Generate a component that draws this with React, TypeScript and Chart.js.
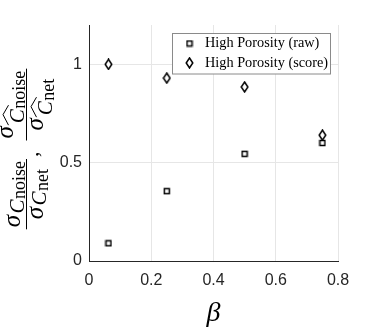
import React, { useEffect, useRef } from "react";
import { Chart, registerables } from "chart.js";

Chart.register(...registerables);

// ---- data ----
const BETA = [0.0625, 0.25, 0.5, 0.75];
const RAW = [0.09, 0.355, 0.545, 0.6];
const SCORE = [1.0, 0.93, 0.885, 0.64];
const X_TICKS = [0, 0.2, 0.4, 0.6, 0.8];
const Y_TICKS = [0, 0.5, 1];
const SERIES_LABELS = ["High Porosity (raw)", "High Porosity (score)"];
const X_LABEL = "β";

function makeMarker(kind: string): HTMLCanvasElement {
  const c = document.createElement("canvas");
  const g = c.getContext("2d") as CanvasRenderingContext2D;
  if (kind === "square") {
    c.width = 8;
    c.height = 8;
    g.fillStyle = "#fff";
    g.strokeStyle = "#000";
    g.lineWidth = 1.5;
    g.fillRect(1.5, 1.5, 5, 5);
    g.strokeRect(1.5, 1.5, 5, 5);
  } else {
    c.width = 9;
    c.height = 12;
    g.fillStyle = "#fff";
    g.strokeStyle = "#000";
    g.lineWidth = 1.5;
    g.beginPath();
    g.moveTo(4.5, 1);
    g.lineTo(7.8, 6);
    g.lineTo(4.5, 11);
    g.lineTo(1.2, 6);
    g.closePath();
    g.fill();
    g.stroke();
  }
  return c;
}

const SERIF = '"Liberation Serif", "Times New Roman", serif';

function drawYLabel(ctx: CanvasRenderingContext2D, centerY: number) {
  const barX = 26.5;
  const SIG = "italic 25px " + SERIF;
  const CF = "italic 21px " + SERIF;
  const SUB = "18px " + SERIF;
  ctx.save();
  ctx.translate(barX, 0);
  ctx.rotate(-Math.PI / 2);
  ctx.fillStyle = "#000";
  ctx.strokeStyle = "#000";
  ctx.textBaseline = "alphabetic";
  ctx.textAlign = "left";
  const mw = (t: string, f: string) => {
    ctx.font = f;
    return ctx.measureText(t).width;
  };
  const termWidth = (sub: string, hat: boolean) =>
    mw("σ", SIG) + (hat ? 3 : 1.5) + mw("C", CF) + 0.5 + mw(sub, SUB);
  // pos: [sigmaBase, cBase, subBase, hatBase, hatPeak]
  const drawTerm = (sub: string, a0: number, pos: number[], hat: boolean) => {
    ctx.font = SIG;
    ctx.fillText("σ", a0, pos[0]);
    const aC = a0 + mw("σ", SIG) + (hat ? 3 : 1.5);
    ctx.font = CF;
    ctx.fillText("C", aC, pos[1]);
    const wC = mw("C", CF);
    const aS = aC + wC + 0.5;
    ctx.font = SUB;
    ctx.fillText(sub, aS, pos[2]);
    if (hat) {
      ctx.lineWidth = 1;
      ctx.beginPath();
      ctx.moveTo(aC - 2, pos[3]);
      ctx.lineTo(aC + wC / 2 + 1.5, pos[4]);
      ctx.lineTo(aC + wC + 4, pos[3]);
      ctx.stroke();
    }
  };
  const fracWidth = (n: string, d: string, hat: boolean) =>
    Math.max(termWidth(n, hat), termWidth(d, hat)) + 4;
  const drawFrac = (n: string, d: string, a: number, hat: boolean) => {
    const W = fracWidth(n, d, hat);
    ctx.lineWidth = 1;
    ctx.beginPath();
    ctx.moveTo(a, 0);
    ctx.lineTo(a + W, 0);
    ctx.stroke();
    const numPos = hat ? [-14, -3, -1.5, -18, -23.5] : [-7, -3, -1.5, 0, 0];
    const denPos = hat ? [16, 25.5, 27, 10, 4.5] : [16, 19.5, 21, 0, 0];
    drawTerm(n, a + (W - termWidth(n, hat)) / 2, numPos, hat);
    drawTerm(d, a + (W - termWidth(d, hat)) / 2, denPos, hat);
    return W;
  };
  const w1 = fracWidth("noise", "net", false);
  const commaF = "22px " + SERIF;
  const commaW = mw(",", commaF);
  const gap = 11;
  const w2 = fracWidth("noise", "net", true);
  const total = w1 + 2 + commaW + gap + w2;
  let a = -centerY - total / 2;
  a += drawFrac("noise", "net", a, false) + 2;
  ctx.font = commaF;
  ctx.fillText(",", a, 11);
  a += commaW + gap;
  drawFrac("noise", "net", a, true);
  ctx.restore();
}

const labelsPlugin = {
  id: "customLabels",
  afterDraw(chart: any) {
    const ctx = chart.ctx as CanvasRenderingContext2D;
    const ca = chart.chartArea;
    // y label
    drawYLabel(ctx, 149);
    // x label
    ctx.save();
    ctx.fillStyle = "#000";
    ctx.font = "italic 28px " + SERIF;
    ctx.textAlign = "center";
    ctx.textBaseline = "alphabetic";
    ctx.fillText(X_LABEL, (ca.left + ca.right) / 2, 321);
    ctx.restore();
    // legend
    const bx = 172.5;
    const by = 33.5;
    const bw = 158;
    const bh = 40.5;
    ctx.save();
    ctx.fillStyle = "#fff";
    ctx.fillRect(bx, by, bw, bh);
    ctx.strokeStyle = "#8a8a8a";
    ctx.lineWidth = 1;
    ctx.strokeRect(bx, by, bw, bh);
    ctx.fillStyle = "#000";
    ctx.font = "14.3px " + SERIF;
    ctx.textAlign = "left";
    ctx.textBaseline = "middle";
    chart.data.datasets.forEach((ds: any, i: number) => {
      const y = by + 10 + i * 19.4;
      const m = ds.pointStyle as HTMLCanvasElement;
      ctx.drawImage(m, 189.5 - m.width / 2, y - m.height / 2);
      ctx.fillText(ds.label, 205, y);
    });
    ctx.restore();
  },
};

export default function App() {
  const ref = useRef<HTMLCanvasElement | null>(null);
  useEffect(() => {
    document.body.style.margin = "0";
    const canvas = ref.current;
    if (!canvas) return;
    const sq = makeMarker("square");
    const dm = makeMarker("diamond");
    const chart = new Chart(canvas, {
      type: "scatter",
      data: {
        datasets: [
          {
            label: SERIES_LABELS[0],
            data: BETA.map((x, i) => ({ x, y: RAW[i] })),
            pointStyle: sq as any,
            pointRadius: 4,
          },
          {
            label: SERIES_LABELS[1],
            data: BETA.map((x, i) => ({ x, y: SCORE[i] })),
            pointStyle: dm as any,
            pointRadius: 5,
          },
        ],
      },
      options: {
        animation: false,
        responsive: false,
        events: [],
        layout: { padding: { top: 25, right: 36, left: 0, bottom: 0 } },
        plugins: {
          legend: { display: false },
          tooltip: { enabled: false },
        },
        scales: {
          x: {
            type: "linear",
            min: 0,
            max: 0.8,
            afterBuildTicks: (s: any) => {
              s.ticks = X_TICKS.map((v) => ({ value: v }));
            },
            afterFit: (s: any) => {
              s.height = 71;
            },
            grid: { color: "#e6e6e6", drawTicks: false },
            border: { color: "#262626", width: 1 },
            ticks: {
              padding: 10,
              color: "#262626",
              font: { family: '"Liberation Sans", Arial, sans-serif', size: 16 },
              callback: (v: any) => String(v),
            },
          },
          y: {
            type: "linear",
            min: 0,
            max: 1.2,
            afterBuildTicks: (s: any) => {
              s.ticks = Y_TICKS.map((v) => ({ value: v }));
            },
            afterFit: (s: any) => {
              s.width = 89;
            },
            grid: { color: "#e6e6e6", drawTicks: false },
            border: { color: "#262626", width: 1 },
            ticks: {
              padding: 7,
              color: "#262626",
              font: { family: '"Liberation Sans", Arial, sans-serif', size: 16 },
              callback: (v: any) => String(v),
            },
          },
        },
      },
      plugins: [labelsPlugin],
    } as any);
    return () => chart.destroy();
  }, []);
  return (
    <div style={{ width: 374, height: 332 }}>
      <canvas ref={ref} width={374} height={332} />
    </div>
  );
}
